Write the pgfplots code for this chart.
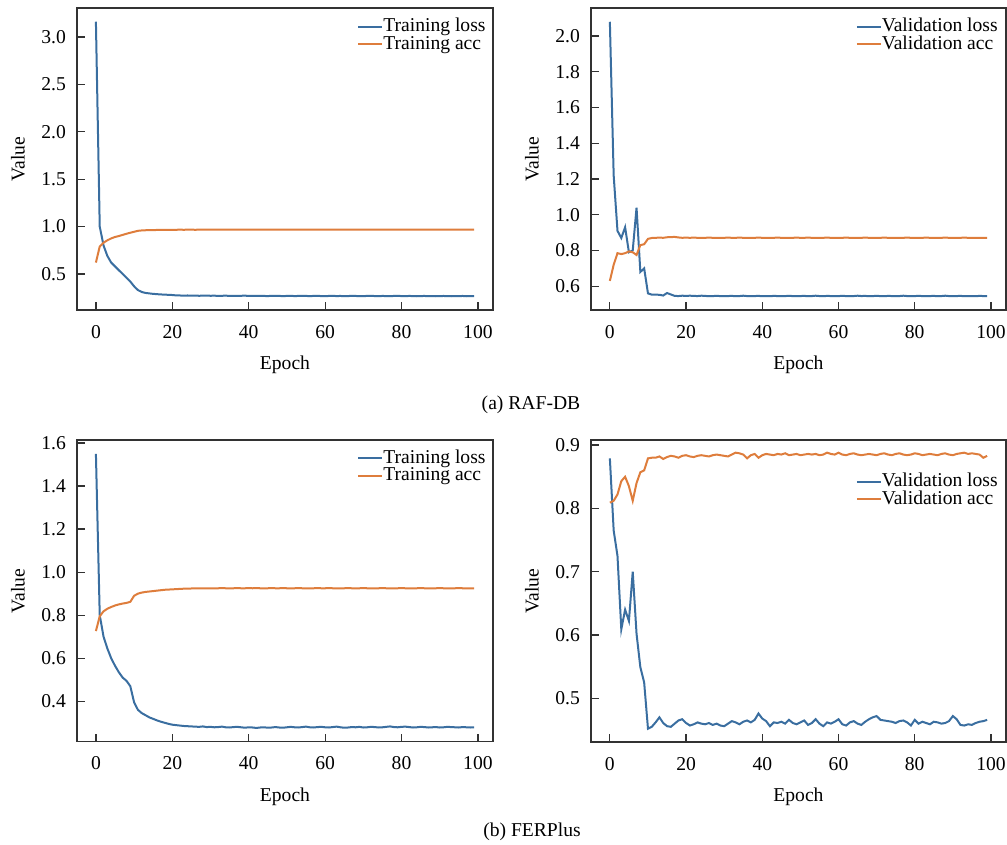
\documentclass[border=0pt]{standalone}
\usepackage{fontspec}
\setmainfont{Liberation Serif}
\usepackage{pgfplots}
\usepackage{pgfplotstable}
\pgfplotsset{compat=1.18}
\definecolor{lossblue}{RGB}{58,110,160}
\definecolor{accorange}{RGB}{222,125,60}
\definecolor{framegray}{RGB}{50,50,50}

% RAF-DB training
\pgfplotstableread{
ep loss acc
0 3.16 0.62
1 1.00 0.79
2 0.80 0.83
3 0.69 0.855
4 0.62 0.875
5 0.58 0.89
6 0.54 0.90
7 0.50 0.912
8 0.46 0.924
9 0.42 0.935
10 0.37 0.945
11 0.33 0.955
12 0.31 0.959
13 0.30 0.961
14 0.295 0.962
15 0.290 0.963
16 0.287 0.964
17 0.284 0.965
18 0.282 0.965
19 0.280 0.966
20 0.278 0.966
21 0.274 0.966
22 0.273 0.967
23 0.272 0.966
24 0.273 0.967
25 0.271 0.967
26 0.272 0.966
27 0.270 0.967
28 0.271 0.968
29 0.272 0.967
30 0.270 0.967
31 0.271 0.967
32 0.269 0.968
33 0.270 0.967
34 0.271 0.967
35 0.269 0.968
36 0.270 0.967
37 0.268 0.968
38 0.270 0.967
39 0.271 0.967
40 0.269 0.968
41 0.268 0.968
42 0.269 0.967
43 0.270 0.968
44 0.268 0.968
45 0.267 0.967
46 0.269 0.968
47 0.270 0.968
48 0.268 0.967
49 0.267 0.968
50 0.268 0.968
51 0.269 0.967
52 0.267 0.968
53 0.268 0.968
54 0.270 0.967
55 0.268 0.968
56 0.267 0.968
57 0.268 0.967
58 0.269 0.968
59 0.267 0.967
60 0.266 0.968
61 0.268 0.968
62 0.269 0.967
63 0.267 0.968
64 0.268 0.968
65 0.266 0.967
66 0.267 0.968
67 0.269 0.968
68 0.268 0.967
69 0.266 0.968
70 0.267 0.968
71 0.268 0.967
72 0.270 0.968
73 0.267 0.968
74 0.266 0.967
75 0.268 0.968
76 0.267 0.967
77 0.266 0.968
78 0.268 0.968
79 0.269 0.967
80 0.267 0.968
81 0.266 0.968
82 0.268 0.967
83 0.267 0.968
84 0.265 0.968
85 0.267 0.967
86 0.268 0.968
87 0.266 0.967
88 0.267 0.968
89 0.265 0.968
90 0.266 0.967
91 0.268 0.968
92 0.266 0.967
93 0.265 0.968
94 0.267 0.968
95 0.266 0.967
96 0.268 0.968
97 0.265 0.967
98 0.266 0.968
99 0.267 0.967
}\rafTrain

% RAF-DB validation
\pgfplotstableread{
ep loss acc
0 2.08 0.63
1 1.22 0.72
2 0.91 0.785
3 0.87 0.78
4 0.93 0.785
5 0.79 0.795
6 0.80 0.79
7 1.04 0.775
8 0.68 0.83
9 0.70 0.835
10 0.56 0.865
11 0.553 0.870
12 0.553 0.871
13 0.552 0.872
14 0.548 0.871
15 0.562 0.874
16 0.554 0.875
17 0.546 0.876
18 0.545 0.873
19 0.547 0.871
20 0.546 0.872
21 0.547 0.871
22 0.546 0.872
23 0.545 0.871
24 0.547 0.870
25 0.546 0.871
26 0.544 0.872
27 0.545 0.871
28 0.546 0.871
29 0.545 0.870
30 0.544 0.871
31 0.545 0.872
32 0.546 0.871
33 0.544 0.871
34 0.545 0.872
35 0.547 0.871
36 0.545 0.870
37 0.544 0.871
38 0.545 0.871
39 0.546 0.872
40 0.544 0.871
41 0.545 0.871
42 0.544 0.870
43 0.546 0.871
44 0.545 0.872
45 0.544 0.871
46 0.545 0.871
47 0.546 0.870
48 0.545 0.871
49 0.544 0.872
50 0.545 0.871
51 0.546 0.871
52 0.544 0.872
53 0.545 0.871
54 0.547 0.870
55 0.545 0.871
56 0.544 0.871
57 0.546 0.872
58 0.545 0.871
59 0.544 0.870
60 0.545 0.871
61 0.546 0.871
62 0.545 0.872
63 0.544 0.871
64 0.545 0.871
65 0.547 0.870
66 0.545 0.871
67 0.546 0.872
68 0.544 0.871
69 0.545 0.871
70 0.546 0.870
71 0.545 0.871
72 0.544 0.872
73 0.546 0.871
74 0.545 0.871
75 0.544 0.870
76 0.545 0.871
77 0.547 0.871
78 0.545 0.872
79 0.544 0.871
80 0.545 0.870
81 0.546 0.871
82 0.545 0.871
83 0.544 0.872
84 0.545 0.871
85 0.546 0.870
86 0.544 0.871
87 0.545 0.871
88 0.547 0.872
89 0.545 0.871
90 0.544 0.871
91 0.545 0.870
92 0.546 0.871
93 0.544 0.872
94 0.545 0.871
95 0.545 0.871
96 0.544 0.870
97 0.546 0.871
98 0.545 0.871
99 0.545 0.871
}\rafVal

% FERPlus training
\pgfplotstableread{
ep loss acc
0 1.55 0.726
1 0.80 0.795
2 0.70 0.818
3 0.645 0.830
4 0.60 0.838
5 0.565 0.845
6 0.535 0.850
7 0.51 0.854
8 0.495 0.857
9 0.47 0.862
10 0.395 0.890
11 0.36 0.900
12 0.345 0.905
13 0.335 0.908
14 0.325 0.910
15 0.318 0.912
16 0.311 0.914
17 0.305 0.916
18 0.300 0.918
19 0.295 0.919
20 0.291 0.920
21 0.289 0.921
22 0.287 0.922
23 0.285 0.923
24 0.284 0.923
25 0.283 0.924
26 0.282 0.924
27 0.281 0.925
28 0.283 0.924
29 0.280 0.925
30 0.281 0.925
31 0.279 0.924
32 0.280 0.925
33 0.282 0.926
34 0.279 0.925
35 0.278 0.924
36 0.280 0.925
37 0.281 0.926
38 0.279 0.925
39 0.277 0.925
40 0.279 0.926
41 0.278 0.925
42 0.276 0.926
43 0.278 0.925
44 0.279 0.924
45 0.277 0.925
46 0.278 0.926
47 0.280 0.925
48 0.278 0.925
49 0.277 0.926
50 0.279 0.925
51 0.281 0.924
52 0.279 0.925
53 0.278 0.926
54 0.280 0.925
55 0.282 0.925
56 0.279 0.924
57 0.278 0.925
58 0.280 0.926
59 0.281 0.925
60 0.279 0.925
61 0.278 0.926
62 0.280 0.925
63 0.282 0.924
64 0.279 0.925
65 0.277 0.925
66 0.278 0.926
67 0.280 0.925
68 0.279 0.924
69 0.281 0.925
70 0.278 0.926
71 0.279 0.925
72 0.281 0.925
73 0.280 0.924
74 0.278 0.925
75 0.279 0.926
76 0.281 0.925
77 0.283 0.925
78 0.280 0.924
79 0.279 0.925
80 0.281 0.926
81 0.282 0.925
82 0.280 0.924
83 0.278 0.925
84 0.279 0.925
85 0.281 0.926
86 0.280 0.925
87 0.278 0.924
88 0.279 0.925
89 0.280 0.925
90 0.278 0.926
91 0.279 0.925
92 0.281 0.925
93 0.280 0.924
94 0.279 0.925
95 0.278 0.926
96 0.280 0.925
97 0.279 0.925
98 0.278 0.925
99 0.279 0.925
}\ferTrain

% FERPlus validation
\pgfplotstableread{
ep loss acc
0 0.879 0.809
1 0.765 0.812
2 0.725 0.822
3 0.609 0.843
4 0.640 0.850
5 0.622 0.835
6 0.700 0.812
7 0.602 0.840
8 0.549 0.857
9 0.525 0.860
10 0.452 0.879
11 0.455 0.880
12 0.462 0.880
13 0.470 0.882
14 0.461 0.878
15 0.456 0.881
16 0.455 0.883
17 0.460 0.882
18 0.465 0.880
19 0.467 0.883
20 0.461 0.884
21 0.457 0.882
22 0.459 0.881
23 0.462 0.883
24 0.460 0.884
25 0.459 0.883
26 0.461 0.882
27 0.458 0.884
28 0.460 0.885
29 0.457 0.884
30 0.456 0.883
31 0.460 0.882
32 0.464 0.885
33 0.462 0.888
34 0.459 0.887
35 0.463 0.885
36 0.465 0.879
37 0.462 0.884
38 0.466 0.886
39 0.476 0.880
40 0.468 0.884
41 0.464 0.886
42 0.456 0.885
43 0.462 0.884
44 0.461 0.886
45 0.463 0.885
46 0.460 0.887
47 0.466 0.884
48 0.461 0.885
49 0.459 0.886
50 0.462 0.884
51 0.465 0.885
52 0.458 0.886
53 0.461 0.885
54 0.467 0.886
55 0.460 0.884
56 0.456 0.885
57 0.462 0.888
58 0.460 0.886
59 0.463 0.885
60 0.467 0.888
61 0.459 0.885
62 0.457 0.884
63 0.462 0.886
64 0.464 0.887
65 0.460 0.885
66 0.458 0.884
67 0.463 0.885
68 0.467 0.886
69 0.470 0.885
70 0.472 0.884
71 0.466 0.886
72 0.465 0.887
73 0.464 0.885
74 0.463 0.884
75 0.461 0.886
76 0.464 0.887
77 0.465 0.885
78 0.462 0.884
79 0.457 0.885
80 0.466 0.887
81 0.460 0.886
82 0.463 0.884
83 0.461 0.885
84 0.459 0.886
85 0.463 0.885
86 0.462 0.884
87 0.460 0.886
88 0.461 0.887
89 0.464 0.885
90 0.472 0.884
91 0.467 0.886
92 0.458 0.887
93 0.457 0.888
94 0.459 0.886
95 0.458 0.887
96 0.461 0.886
97 0.463 0.885
98 0.464 0.880
99 0.466 0.883
}\ferVal

\pgfplotsset{
  curves/.style={
    scale only axis,
    anchor=south west,
    xmin=-4.95, xmax=103.95,
    xtick={0,20,40,60,80,100},
    tick align=inside,
    tick pos=left,
    major tick length=4pt,
    tick style={framegray, line width=0.6pt},
    axis line style={framegray, line width=0.6pt},
    font=\fontsize{9.8}{11}\selectfont,
    /pgf/number format/assume math mode=true,
    yticklabel style={/pgf/number format/fixed, /pgf/number format/fixed zerofill, /pgf/number format/precision=1, xshift=-2pt},
    xticklabel style={yshift=-4pt},
    xlabel={Epoch}, ylabel={Value},
    xlabel style={at={(axis description cs:0.5,-0.182)}, anchor=center},
    ylabel style={at={(axis description cs:-0.142,0.5)}, anchor=center},
    legend cell align=left,
    legend image code/.code={\draw[#1] (0pt,0pt) -- (12pt,0pt);},
    legend style={draw=none, fill=none, inner sep=0pt, row sep=0pt,
      nodes={inner sep=0pt, text height=6.8pt, text depth=1.9pt},
      font=\fontsize{9.8}{11}\selectfont},
    every axis plot/.append style={line width=1pt},
  }
}

\begin{document}
\begin{tikzpicture}
\useasboundingbox (0pt,0pt) rectangle (503.5pt,-422.5pt);

\begin{axis}[curves, at={(38.5pt,-155pt)}, width=208pt, height=151pt,
  ymin=0.12, ymax=3.305, ytick={0.5,1.0,1.5,2.0,2.5,3.0},
  legend style={at={(0.983,0.967)}, anchor=north east}]
\addplot[lossblue] table[x=ep, y=loss] {\rafTrain};
\addlegendentry{Training loss}
\addplot[accorange] table[x=ep, y=acc] {\rafTrain};
\addlegendentry{Training acc}
\end{axis}

\begin{axis}[curves, at={(295.5pt,-155pt)}, width=207.5pt, height=151pt,
  ymin=0.467, ymax=2.157, ytick={0.6,0.8,1.0,1.2,1.4,1.6,1.8,2.0},
  legend style={at={(0.981,0.967)}, anchor=north east}]
\addplot[lossblue] table[x=ep, y=loss] {\rafVal};
\addlegendentry{Validation loss}
\addplot[accorange] table[x=ep, y=acc] {\rafVal};
\addlegendentry{Validation acc}
\end{axis}

\begin{axis}[curves, at={(38.5pt,-370.85pt)}, width=208pt, height=150.85pt,
  ymin=0.212, ymax=1.614, ytick={0.4,0.6,0.8,1.0,1.2,1.4,1.6},
  legend style={at={(0.983,0.969)}, anchor=north east}]
\addplot[lossblue] table[x=ep, y=loss] {\ferTrain};
\addlegendentry{Training loss}
\addplot[accorange] table[x=ep, y=acc] {\ferTrain};
\addlegendentry{Training acc}
\end{axis}

\begin{axis}[curves, at={(295.5pt,-371pt)}, width=207.5pt, height=151pt,
  ymin=0.431, ymax=0.908, ytick={0.5,0.6,0.7,0.8,0.9},
  legend style={at={(0.981,0.892)}, anchor=north east}]
\addplot[lossblue] table[x=ep, y=loss] {\ferVal};
\addlegendentry{Validation loss}
\addplot[accorange] table[x=ep, y=acc] {\ferVal};
\addlegendentry{Validation acc}
\end{axis}

\node[font=\fontsize{9.8}{11}\selectfont] at (265.5pt,-202.5pt) {(a) RAF-DB};
\node[font=\fontsize{9.8}{11}\selectfont] at (266pt,-416pt) {(b) FERPlus};
\end{tikzpicture}
\end{document}
